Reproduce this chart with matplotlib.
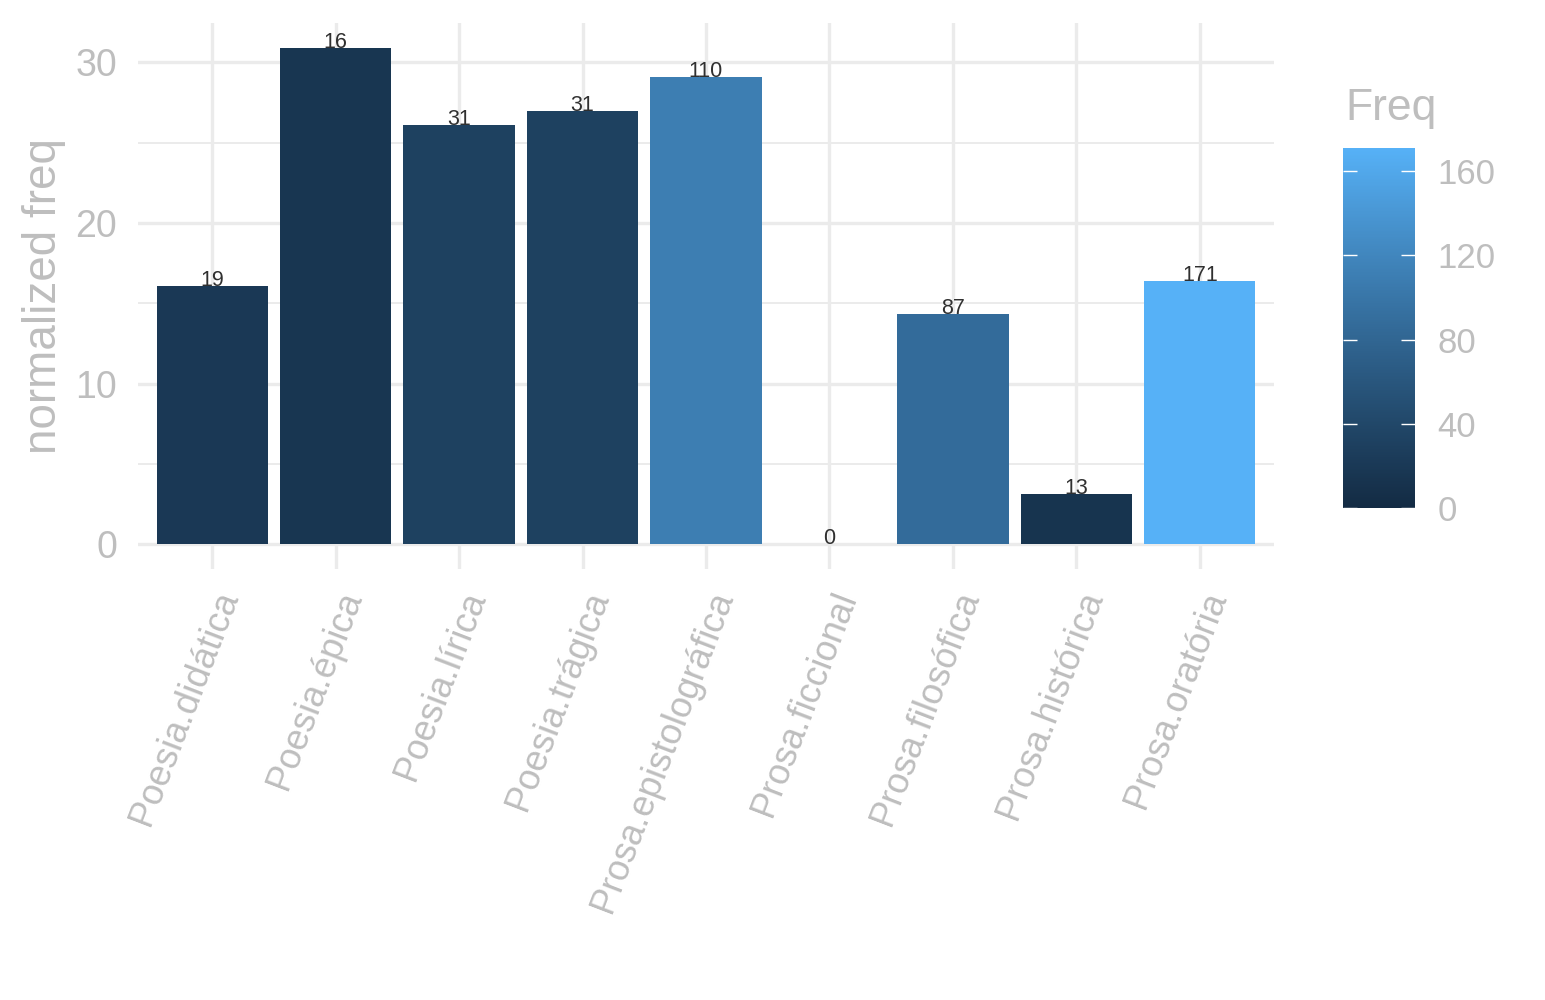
import numpy as np
import matplotlib
matplotlib.use("Agg")
import matplotlib.pyplot as plt
from matplotlib.colors import ListedColormap, Normalize
from matplotlib.cm import ScalarMappable
from matplotlib.transforms import ScaledTranslation

categories = ["Poesia.didática", "Poesia.épica", "Poesia.lírica", "Poesia.trágica",
              "Prosa.epistolográfica", "Prosa.ficcional", "Prosa.filosófica",
              "Prosa.histórica", "Prosa.oratória"]
normalized_freq = [16.1, 30.9, 26.1, 26.95, 29.1, 0.0, 14.3, 3.15, 16.4]
freq = [19, 16, 31, 31, 110, 0, 87, 13, 171]
y_ticks = [0, 10, 20, 30]
cbar_ticks = [0, 40, 80, 120, 160]

plt.rcParams['font.family'] = ['Liberation Sans', 'DejaVu Sans']

# ggplot2 default continuous gradient (#132B43 -> #56B1F7 in Lab)
def hex2rgb(h):
    h = h.lstrip('#')
    return np.array([int(h[i:i+2], 16) / 255 for i in (0, 2, 4)])

M = np.array([[0.4124564, 0.3575761, 0.1804375],
              [0.2126729, 0.7151522, 0.0721750],
              [0.0193339, 0.1191920, 0.9503041]])
WP = np.array([0.95047, 1.0, 1.08883])

def rgb2lab(c):
    lin = np.where(c <= 0.04045, c / 12.92, ((c + 0.055) / 1.055) ** 2.4)
    xyz = M @ lin / WP
    f = np.where(xyz > (6/29) ** 3, np.cbrt(xyz), xyz / (3 * (6/29) ** 2) + 4/29)
    return np.array([116 * f[1] - 16, 500 * (f[0] - f[1]), 200 * (f[1] - f[2])])

def lab2rgb(lab):
    L, a, b = lab
    fy = (L + 16) / 116
    fx = fy + a / 500
    fz = fy - b / 200
    f = np.array([fx, fy, fz])
    xyz = np.where(f > 6/29, f ** 3, 3 * (6/29) ** 2 * (f - 4/29)) * WP
    lin = np.linalg.solve(M, xyz)
    lin = np.clip(lin, 0, 1)
    c = np.where(lin <= 0.0031308, 12.92 * lin, 1.055 * lin ** (1/2.4) - 0.055)
    return np.clip(c, 0, 1)

lab_lo = rgb2lab(hex2rgb("#132B43"))
lab_hi = rgb2lab(hex2rgb("#56B1F7"))
cols = [lab2rgb(lab_lo + (lab_hi - lab_lo) * t) for t in np.linspace(0, 1, 256)]
cmap = ListedColormap(cols)
norm = Normalize(vmin=min(freq), vmax=max(freq))

GRAY = "#BEBEBE"
GRID = "#EBEBEB"

fig = plt.figure(figsize=(15.45, 10), dpi=100)
ax = fig.add_axes([138/1545, 1 - 569/1000, (1274 - 138)/1545, (569 - 23)/1000])

x = np.arange(1, len(categories) + 1)
ax.bar(x, normalized_freq, width=0.9, color=[cmap(norm(v)) for v in freq], zorder=2)
for xi, yv, f in zip(x, normalized_freq, freq):
    ax.text(xi, yv, str(f), ha='center', va='baseline', fontsize=15.5, color='#303030', zorder=3)

ymax = max(normalized_freq)
ax.set_xlim(0.4, len(categories) + 0.6)
ax.set_ylim(-0.05 * ymax, 1.05 * ymax)
ax.set_yticks(y_ticks)
ax.set_yticks([5, 15, 25], minor=True)
ax.set_xticks(x)
ax.set_xticklabels(categories, rotation=69, ha='right', va='top', rotation_mode='anchor')

ax.grid(True, which='major', color=GRID, linewidth=2.4, zorder=0)
ax.grid(True, which='minor', axis='y', color=GRID, linewidth=1.4, zorder=0)
ax.set_axisbelow(True)
for s in ax.spines.values():
    s.set_visible(False)
ax.tick_params(axis='both', which='both', length=0, labelcolor=GRAY, labelsize=27)
ax.tick_params(axis='x', labelsize=26.3, pad=12.5)
ax.tick_params(axis='y', pad=15)
for lab in ax.get_xticklabels():
    lab.set_transform(lab.get_transform() + ScaledTranslation(1/100, 0, fig.dpi_scale_trans))
ax.set_ylabel("normalized freq", fontsize=33, color=GRAY, labelpad=7)

# colorbar
cax = fig.add_axes([1343/1545, 1 - 508/1000, 72/1545, 360/1000])
sm = ScalarMappable(norm=norm, cmap=cmap)
cb = fig.colorbar(sm, cax=cax)
cb.outline.set_visible(False)
cb.set_ticks(cbar_ticks)
cax.tick_params(axis='y', which='both', direction='in', left=True, right=True,
                length=10, width=1.0, color='white', labelcolor=GRAY, labelsize=25, pad=16)
fig.text(1345/1545, 1 - 120/1000, "Freq", fontsize=32, color=GRAY, va='baseline', ha='left')

fig.savefig("out.png", dpi=100, facecolor='white')
